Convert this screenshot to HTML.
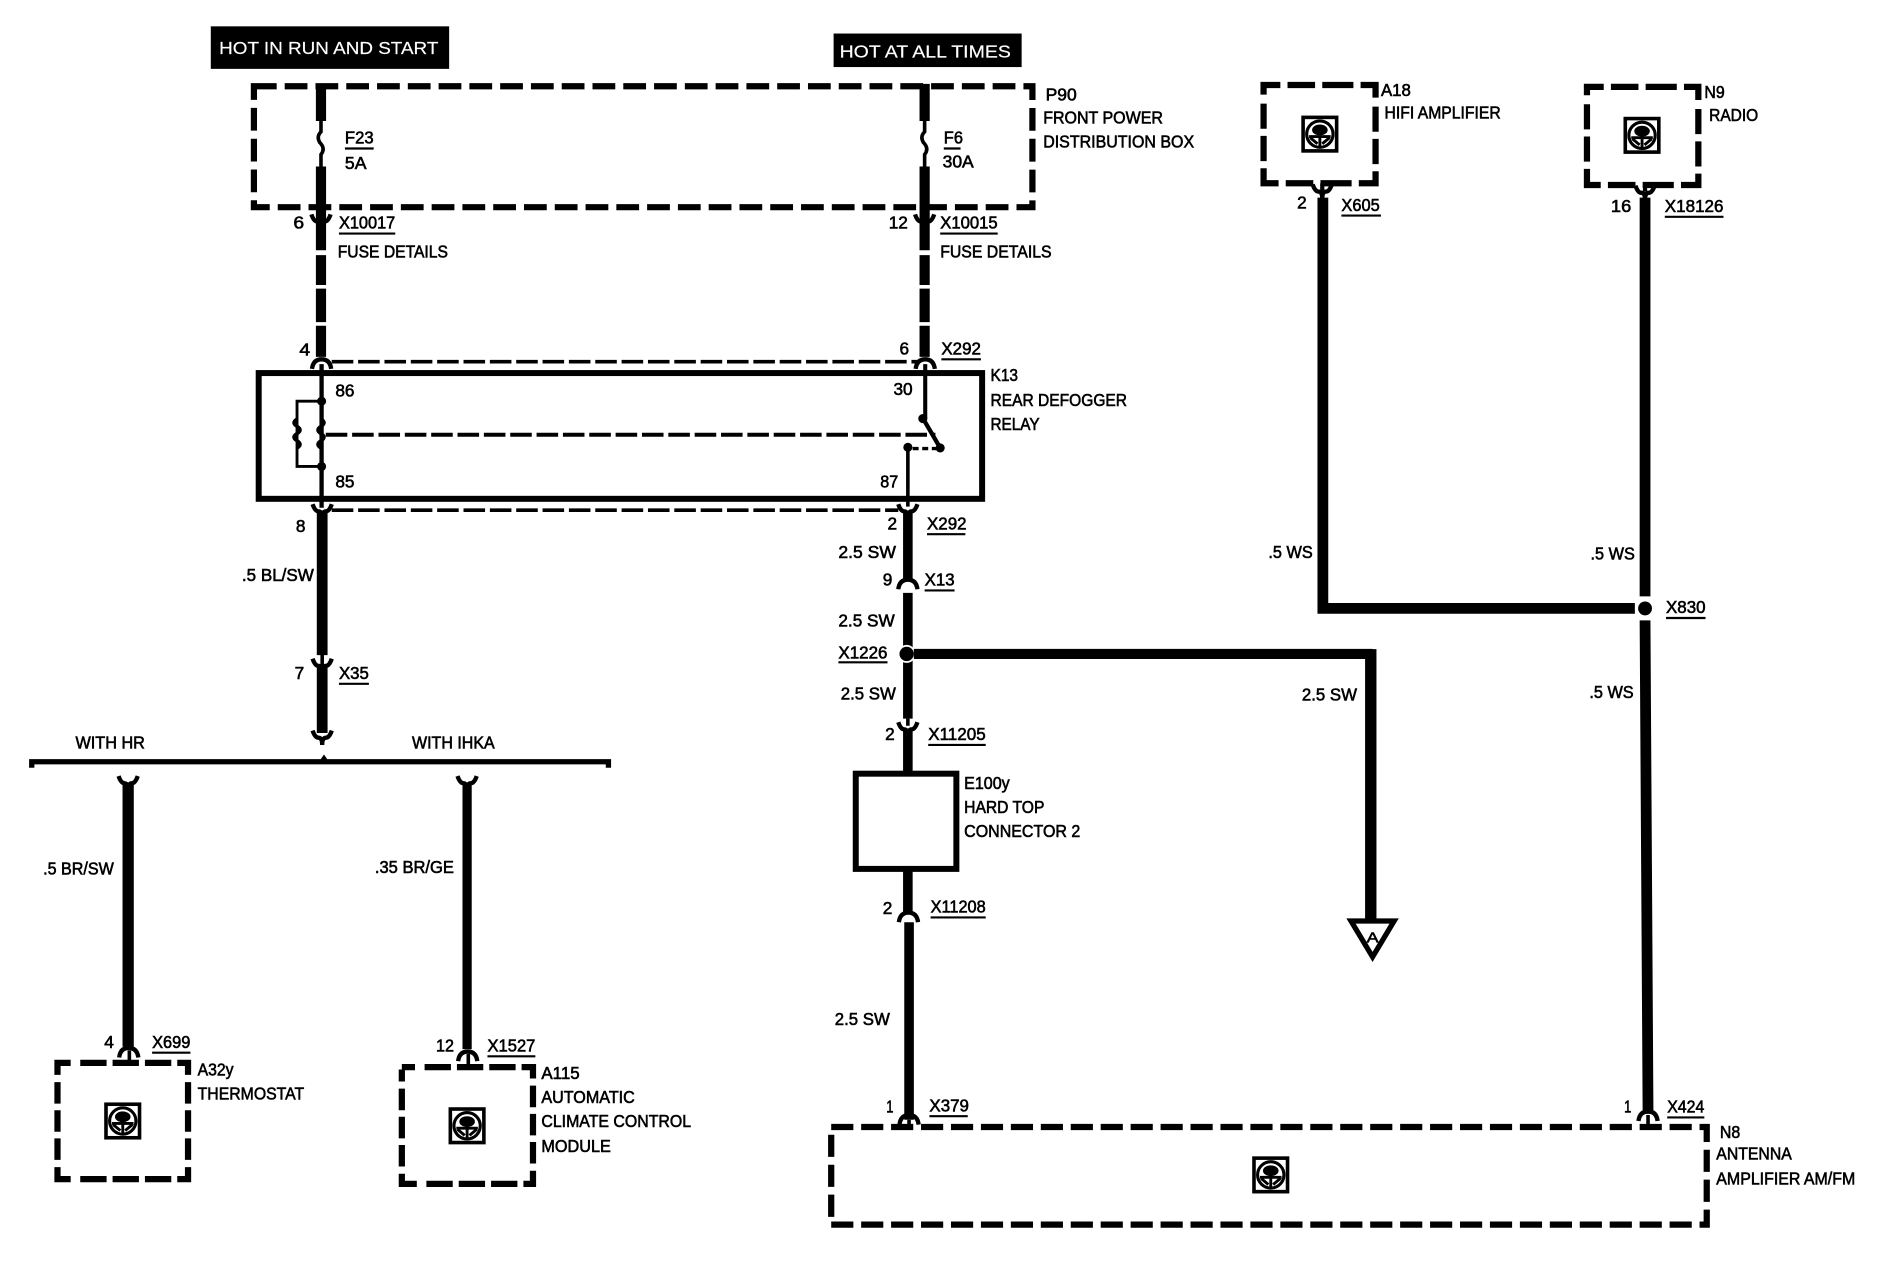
<!DOCTYPE html>
<html><head><meta charset="utf-8"><style>
html,body{margin:0;padding:0;background:#fff}
svg{display:block}
text{font-family:"Liberation Sans",sans-serif;font-size:14.5px;fill:#000;stroke:#000;stroke-width:.5px}
.w{fill:#fff;stroke:#fff;stroke-width:.15px;font-size:14.8px}
.u{stroke:#000;stroke-width:1.8;fill:none}
.d{fill:none;stroke:#000;stroke-width:5.2}
.t{fill:none;stroke:#000}
</style></head><body>
<svg xmlns="http://www.w3.org/2000/svg" width="1878" height="1264" viewBox="0 0 1568 1055.4" preserveAspectRatio="none">
<defs>
<g id="sw"><rect x="-14" y="-14" width="28" height="28" fill="#fff" stroke="#000" stroke-width="3"/><circle r="11" cy="0" fill="#fff" stroke="#000" stroke-width="2.6"/><ellipse cx="0" cy="-3.5" rx="6.500" ry="4.500" fill="#000"/><path d="M-9,2H9M0,2V10M-8,3L-2,8M8,3L2,8" stroke="#000" stroke-width="2.4" fill="none"/></g>
<path id="fd" d="M-8,-5Q-6,1 -3,1Q0,1 0,7Q0,1 3,1Q6,1 8,-5" fill="none" stroke="#000" stroke-width="3.6"/>
<path id="fu" d="M-8,5Q-7,-3 0,-3Q7,-3 8,5" fill="none" stroke="#000" stroke-width="3.6"/>
</defs>
<rect width="1568" height="1056" fill="#fff"/>

<!-- headers -->
<rect x="176" y="22" width="199" height="35.500" fill="#000"/>
<text class="w" x="183" y="45" textLength="183" lengthAdjust="spacingAndGlyphs">HOT IN RUN AND START</text>
<rect x="696" y="28" width="157" height="28" fill="#000"/>
<text class="w" x="701" y="48" textLength="143" lengthAdjust="spacingAndGlyphs">HOT AT ALL TIMES</text>

<!-- dashed boxes -->
<rect class="d" x="212" y="72" width="650" height="101" stroke-dasharray="19 6.700"/>
<rect class="d" x="694" y="941" width="731" height="81.500" stroke-dasharray="18.500 6.500"/>
<rect class="d" x="1055" y="71" width="93.500" height="82" stroke-dasharray="14 6 23 6 26 6 23 7.500 21 6 21 6 24 6 26 6 23 6 25 6 21 6 21 7.500 10 400"/>
<rect class="d" x="1325" y="72.500" width="93" height="82" stroke-dasharray="14 6 23 6 26 6 23 7.500 21 6 21 6 24 6 26 6 23 6 25 6 21 6 21 7.500 10 400"/>
<rect class="d" x="48" y="887.500" width="109" height="97" stroke-dasharray="11 8 22 5 22 5 22 5 19 6 18 5.500 18 5.500 18 6 19 5 22 5 22 5 22 8 21 6 18 5.500 18 5.500 18 6 10 400"/>
<rect class="d" x="335.500" y="891" width="109.500" height="97.500" stroke-dasharray="11 8 22 5 22 5 22 5 19 6 18 5.500 18 5.500 18 6 19 5 22 5 22 5 22 8 21 6 18 5.500 18 5.500 18 6 10 400"/>

<!-- solid boxes -->
<rect class="t" x="216" y="311.500" width="604" height="105" stroke-width="5"/>
<rect class="t" x="714.500" y="646" width="84" height="79.500" stroke-width="5"/>

<!-- left wire -->
<path class="t" stroke-width="8.500" d="M268,70V101M268,139V209M268,213V238M268,241V269M268,272V298"/>
<path class="t" stroke-width="3" d="M268,101V110Q264,114 267,119Q272,124 268,129V139"/>
<use href="#fd" x="268" y="184"/>
<use href="#fu" x="268.500" y="303"/>
<path class="t" stroke-width="3.600" d="M268.500,304V424"/>
<use href="#fd" x="269" y="426"/>
<path class="t" stroke-width="9" d="M269,428V547M269,557V612"/>
<path class="t" stroke-width="3" d="M269,546V556"/>
<use href="#fd" x="269" y="555"/>
<use href="#fd" x="269" y="615"/>

<!-- right top wire -->
<path class="t" stroke-width="8.500" d="M772,70V101M772,139V209M772,213V238M772,241V269M772,272V298"/>
<path class="t" stroke-width="3" d="M772,101V110Q768,114 771,119Q776,124 772,129V139"/>
<use href="#fd" x="772" y="184"/>
<use href="#fu" x="772.500" y="303"/>
<path class="t" stroke-width="3.400" d="M772.500,304V349"/>

<!-- dashed links -->
<path class="t" stroke-width="3" stroke-dasharray="18 4" d="M277,302H766"/>
<path class="t" stroke-width="3" stroke-dasharray="18 4" d="M277,426H750"/>
<path class="t" stroke-width="3.400" stroke-dasharray="18 4" d="M272,363H781"/>

<!-- coil -->
<path class="t" stroke-width="2.400" d="M268,335H248V389.500H268"/>
<path class="t" stroke-width="3" d="M248,350q-5,3 0,6q5,3 0,6q-5,3 0,6q5,3 0,6M268,350q5,3 0,6q-5,3 0,6q5,3 0,6q-5,3 0,6"/>
<circle cx="268.500" cy="335" r="3.800"/><circle cx="268.500" cy="389.500" r="3.800"/>

<!-- switch -->
<circle cx="770.500" cy="349.500" r="3.800"/><circle cx="785" cy="374" r="3.800"/><circle cx="758" cy="373.500" r="3.800"/>
<path class="t" stroke-width="3.600" d="M771,350L785,374"/>
<path class="t" stroke-width="2.800" stroke-dasharray="5 3" d="M762,374.500H785"/>
<path class="t" stroke-width="3" d="M758,373.500V423"/>

<!-- center lower wire -->
<use href="#fd" x="758" y="426"/>
<path class="t" stroke-width="8" d="M758,428V484M758,495V600M758,610V646M758,725V762M759,770V935"/>
<use href="#fu" x="758" y="487"/>
<path class="t" stroke-width="3" d="M758,600V606"/>
<use href="#fd" x="758" y="608"/>
<use href="#fu" x="758.500" y="765"/>
<use href="#fu" x="759" y="934"/>
<path class="t" stroke-width="3" d="M759,935V942"/>
<circle cx="757" cy="546" r="7.500" fill="#fff"/>
<circle cx="757" cy="546" r="6"/>

<!-- branch to A -->
<path class="t" stroke-width="8.500" d="M763,546H1146"/>
<path class="t" stroke-width="9.500" d="M1144.500,542V769"/>
<path d="M1128,769H1164L1146,799Z" fill="#fff" stroke="#000" stroke-width="4.400"/>
<text x="1141" y="787" style="font-size:12px" textLength="10" lengthAdjust="spacingAndGlyphs">A</text>

<!-- right wires -->
<path class="t" stroke-width="9" d="M1104.500,165V508H1365"/>
<path class="t" stroke-width="9" d="M1373.500,165V498M1373.500,518L1376,930"/>
<use href="#fd" x="1104" y="159"/>
<use href="#fd" x="1373.500" y="160"/>
<path class="t" stroke-width="3.500" d="M1104,153V160M1373.500,154V160"/>
<circle cx="1373.500" cy="508" r="8" fill="#fff"/>
<circle cx="1373.500" cy="508" r="5.800"/>
<use href="#fu" x="1376" y="931"/>
<path class="t" stroke-width="3" d="M1376,931V942"/>

<!-- bracket -->
<path class="t" stroke-width="4.400" d="M26.500,641V636H508V641"/>
<path d="M267,635L270.500,630L274,635Z"/>

<!-- lower drops -->
<path class="t" stroke-width="9.400" d="M107,654V874"/>
<path class="t" stroke-width="7.700" d="M390,654V876"/>
<use href="#fd" x="107" y="653"/>
<use href="#fd" x="390" y="653"/>
<use href="#fu" x="107.500" y="878"/>
<use href="#fu" x="390.500" y="881"/>
<path class="t" stroke-width="3" d="M108,877V888M391,880V891"/>

<!-- steering wheel icons -->
<use href="#sw" x="1102" y="112"/>
<use href="#sw" x="1371" y="113"/>
<use href="#sw" x="102.500" y="936"/>
<use href="#sw" x="390" y="940"/>
<use href="#sw" x="1061" y="981"/>

<!-- underlines -->
<path class="u" d="M288,124H312M788,124H802M283,195H330M785,195H833M786,300H819M774,446H806M772,493H797M700,553H741M775,622H823M777,766H823M776,932H808M1392,933H1423M1391,516H1424M1120,180H1153M1390,181H1439M283,571H308M127,879H159M407,882H447"/>

<!-- labels -->
<g>
<text x="288" y="120" textLength="24" lengthAdjust="spacingAndGlyphs">F23</text>
<text x="288" y="141" textLength="18" lengthAdjust="spacingAndGlyphs">5A</text>
<text x="788" y="120" textLength="16" lengthAdjust="spacingAndGlyphs">F6</text>
<text x="787" y="140" textLength="26" lengthAdjust="spacingAndGlyphs">30A</text>
<text x="873" y="84" textLength="26" lengthAdjust="spacingAndGlyphs">P90</text>
<text x="871" y="103" textLength="100" lengthAdjust="spacingAndGlyphs">FRONT POWER</text>
<text x="871" y="123" textLength="126" lengthAdjust="spacingAndGlyphs">DISTRIBUTION BOX</text>
<text x="245" y="191" textLength="9" lengthAdjust="spacingAndGlyphs">6</text>
<text x="283" y="191" textLength="47" lengthAdjust="spacingAndGlyphs">X10017</text>
<text x="282" y="215" textLength="92" lengthAdjust="spacingAndGlyphs">FUSE DETAILS</text>
<text x="742" y="191" textLength="16" lengthAdjust="spacingAndGlyphs">12</text>
<text x="785" y="191" textLength="48" lengthAdjust="spacingAndGlyphs">X10015</text>
<text x="785" y="215" textLength="93" lengthAdjust="spacingAndGlyphs">FUSE DETAILS</text>
<text x="250" y="297" textLength="9" lengthAdjust="spacingAndGlyphs">4</text>
<text x="751" y="296" textLength="8" lengthAdjust="spacingAndGlyphs">6</text>
<text x="786" y="296" textLength="33" lengthAdjust="spacingAndGlyphs">X292</text>
<text x="280" y="331" textLength="16" lengthAdjust="spacingAndGlyphs">86</text>
<text x="746" y="330" textLength="16" lengthAdjust="spacingAndGlyphs">30</text>
<text x="280" y="407" textLength="16" lengthAdjust="spacingAndGlyphs">85</text>
<text x="735" y="407" textLength="15" lengthAdjust="spacingAndGlyphs">87</text>
<text x="827" y="318" textLength="23" lengthAdjust="spacingAndGlyphs">K13</text>
<text x="827" y="339" textLength="114" lengthAdjust="spacingAndGlyphs">REAR DEFOGGER</text>
<text x="827" y="359" textLength="41" lengthAdjust="spacingAndGlyphs">RELAY</text>
<text x="247" y="444" textLength="8" lengthAdjust="spacingAndGlyphs">8</text>
<text x="741" y="442" textLength="8" lengthAdjust="spacingAndGlyphs">2</text>
<text x="774" y="442" textLength="33" lengthAdjust="spacingAndGlyphs">X292</text>
<text x="202" y="485" textLength="60" lengthAdjust="spacingAndGlyphs">.5 BL/SW</text>
<text x="700" y="466" textLength="48" lengthAdjust="spacingAndGlyphs">2.5 SW</text>
<text x="737" y="489" textLength="8" lengthAdjust="spacingAndGlyphs">9</text>
<text x="772" y="489" textLength="25" lengthAdjust="spacingAndGlyphs">X13</text>
<text x="700" y="523" textLength="47" lengthAdjust="spacingAndGlyphs">2.5 SW</text>
<text x="700" y="550" textLength="41" lengthAdjust="spacingAndGlyphs">X1226</text>
<text x="702" y="584" textLength="46" lengthAdjust="spacingAndGlyphs">2.5 SW</text>
<text x="739" y="618" textLength="8" lengthAdjust="spacingAndGlyphs">2</text>
<text x="775" y="618" textLength="48" lengthAdjust="spacingAndGlyphs">X11205</text>
<text x="805" y="659" textLength="38" lengthAdjust="spacingAndGlyphs">E100y</text>
<text x="805" y="679" textLength="67" lengthAdjust="spacingAndGlyphs">HARD TOP</text>
<text x="805" y="699" textLength="97" lengthAdjust="spacingAndGlyphs">CONNECTOR 2</text>
<text x="737" y="763" textLength="8" lengthAdjust="spacingAndGlyphs">2</text>
<text x="777" y="762" textLength="46" lengthAdjust="spacingAndGlyphs">X11208</text>
<text x="697" y="856" textLength="46" lengthAdjust="spacingAndGlyphs">2.5 SW</text>
<text x="740" y="929" textLength="6" lengthAdjust="spacingAndGlyphs">1</text>
<text x="776" y="928" textLength="33" lengthAdjust="spacingAndGlyphs">X379</text>
<text x="1356" y="929" textLength="6" lengthAdjust="spacingAndGlyphs">1</text>
<text x="1392" y="929" textLength="31" lengthAdjust="spacingAndGlyphs">X424</text>
<text x="1436" y="950" textLength="17" lengthAdjust="spacingAndGlyphs">N8</text>
<text x="1433" y="968" textLength="63" lengthAdjust="spacingAndGlyphs">ANTENNA</text>
<text x="1433" y="989" textLength="116" lengthAdjust="spacingAndGlyphs">AMPLIFIER AM/FM</text>
<text x="1087" y="585" textLength="46" lengthAdjust="spacingAndGlyphs">2.5 SW</text>
<text x="1059" y="466" textLength="37" lengthAdjust="spacingAndGlyphs">.5 WS</text>
<text x="1328" y="467" textLength="37" lengthAdjust="spacingAndGlyphs">.5 WS</text>
<text x="1327" y="583" textLength="37" lengthAdjust="spacingAndGlyphs">.5 WS</text>
<text x="1391" y="512" textLength="33" lengthAdjust="spacingAndGlyphs">X830</text>
<text x="1083" y="174" textLength="8" lengthAdjust="spacingAndGlyphs">2</text>
<text x="1120" y="176" textLength="32" lengthAdjust="spacingAndGlyphs">X605</text>
<text x="1345" y="177" textLength="17" lengthAdjust="spacingAndGlyphs">16</text>
<text x="1390" y="177" textLength="49" lengthAdjust="spacingAndGlyphs">X18126</text>
<text x="1153" y="80" textLength="25" lengthAdjust="spacingAndGlyphs">A18</text>
<text x="1156" y="99" textLength="97" lengthAdjust="spacingAndGlyphs">HIFI AMPLIFIER</text>
<text x="1423" y="82" textLength="17" lengthAdjust="spacingAndGlyphs">N9</text>
<text x="1427" y="101" textLength="41" lengthAdjust="spacingAndGlyphs">RADIO</text>
<text x="246" y="567" textLength="8" lengthAdjust="spacingAndGlyphs">7</text>
<text x="283" y="567" textLength="25" lengthAdjust="spacingAndGlyphs">X35</text>
<text x="63" y="625" textLength="58" lengthAdjust="spacingAndGlyphs">WITH HR</text>
<text x="344" y="625" textLength="69" lengthAdjust="spacingAndGlyphs">WITH IHKA</text>
<text x="36" y="730" textLength="59" lengthAdjust="spacingAndGlyphs">.5 BR/SW</text>
<text x="313" y="729" textLength="66" lengthAdjust="spacingAndGlyphs">.35 BR/GE</text>
<text x="87" y="875" textLength="8" lengthAdjust="spacingAndGlyphs">4</text>
<text x="127" y="875" textLength="32" lengthAdjust="spacingAndGlyphs">X699</text>
<text x="364" y="878" textLength="15" lengthAdjust="spacingAndGlyphs">12</text>
<text x="407" y="878" textLength="40" lengthAdjust="spacingAndGlyphs">X1527</text>
<text x="165" y="898" textLength="30" lengthAdjust="spacingAndGlyphs">A32y</text>
<text x="165" y="918" textLength="89" lengthAdjust="spacingAndGlyphs">THERMOSTAT</text>
<text x="452" y="901" textLength="32" lengthAdjust="spacingAndGlyphs">A115</text>
<text x="452" y="921" textLength="78" lengthAdjust="spacingAndGlyphs">AUTOMATIC</text>
<text x="452" y="941" textLength="125" lengthAdjust="spacingAndGlyphs">CLIMATE CONTROL</text>
<text x="452" y="962" textLength="58" lengthAdjust="spacingAndGlyphs">MODULE</text>
</g>
</svg>
</body></html>
